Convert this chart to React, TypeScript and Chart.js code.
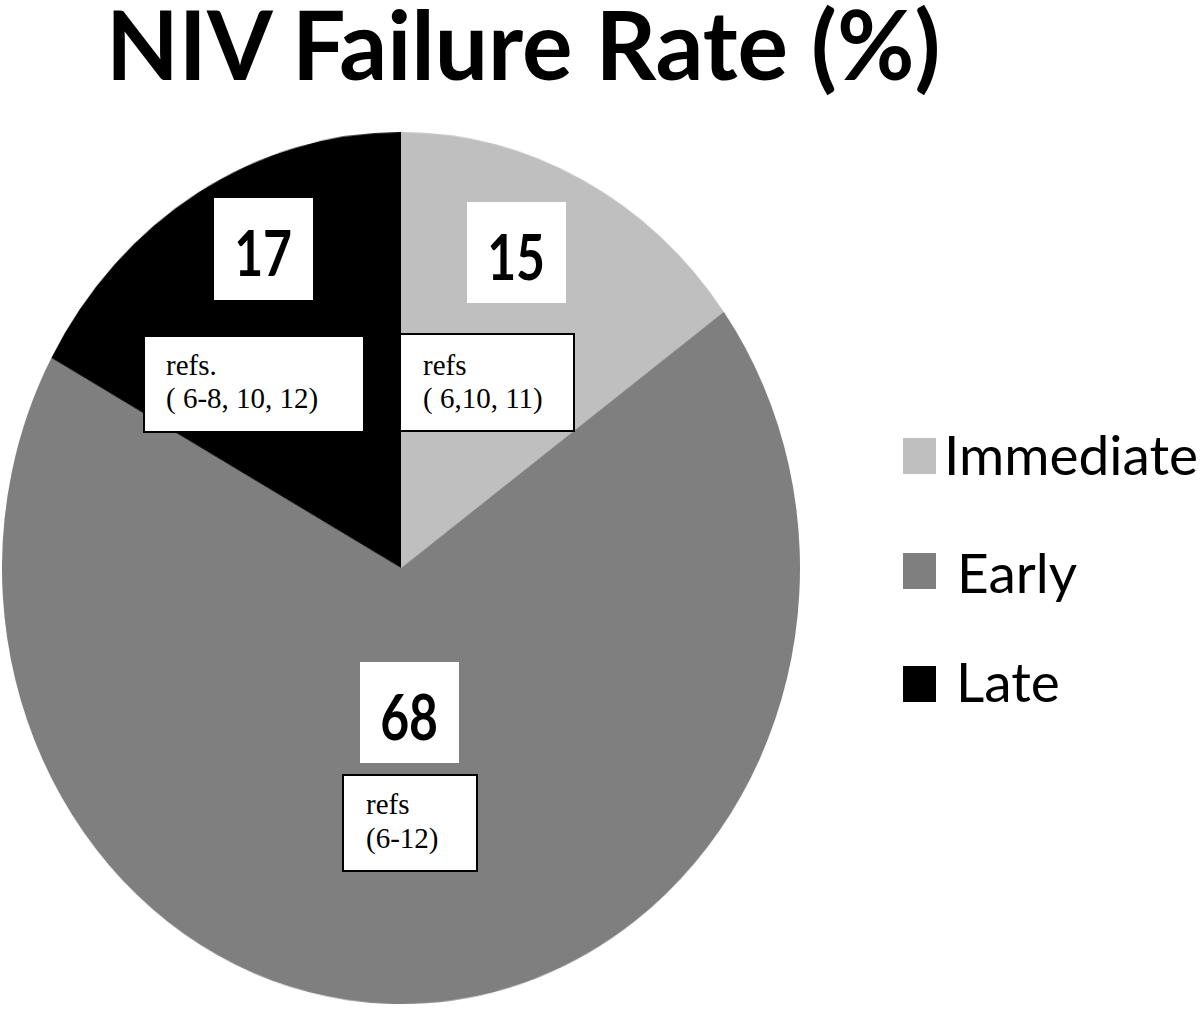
import React, { useEffect, useRef } from "react";
import { Chart, registerables } from "chart.js";

Chart.register(...registerables);

// ---- data ----
const titleText = "NIV Failure Rate (%)";
const categories = ["Immediate", "Early", "Late"];
const values = [15, 68, 17];
const colors = ["#bfbfbf", "#7f7f7f", "#000000"];
const valueLabels = values.map((v) => String(v));
const refLines = [
  ["refs", "( 6,10, 11)"],
  ["refs", "(6-12)"],
  ["refs.", "( 6-8, 10, 12)"],
];

// ---- layout (positions only) ----
const numBoxes = [
  { x: 467, y: 202, w: 99, h: 101 },
  { x: 360, y: 662, w: 99, h: 101 },
  { x: 214, y: 198, w: 99, h: 102 },
];
const refBoxes = [
  { x: 399, y: 333, w: 176, h: 99, tx: 423, ty: 349, lh: 33 },
  { x: 342, y: 774, w: 136, h: 98, tx: 366, ty: 787, lh: 34 },
  { x: 143, y: 335, w: 222, h: 98, tx: 166, ty: 349, lh: 33 },
];
const legendPos = [
  { sy: 438, ty: 427, tx: 944 },
  { sy: 553, ty: 545, tx: 957 },
  { sy: 666, ty: 654, tx: 956 },
];

export default function App() {
  const canvasRef = useRef<HTMLCanvasElement | null>(null);

  useEffect(() => {
    const canvas = canvasRef.current;
    if (!canvas) return;
    const chart = new Chart(canvas, {
      type: "pie",
      data: {
        labels: categories,
        datasets: [
          {
            data: values,
            backgroundColor: colors,
            borderWidth: 0,
          },
        ],
      },
      options: {
        responsive: false,
        animation: false,
        events: [],
        layout: { padding: 0 },
        plugins: {
          legend: { display: false },
          tooltip: { enabled: false },
          title: { display: false },
        },
      },
    });
    return () => chart.destroy();
  }, []);

  return (
    <div
      style={{
        position: "absolute",
        left: 0,
        top: 0,
        width: 1200,
        height: 1010,
        background: "#ffffff",
        overflow: "hidden",
      }}
    >
      <div
        style={{
          position: "absolute",
          left: 106,
          top: -5,
          fontFamily: "Lato",
          fontWeight: 700,
          fontSize: 96,
          lineHeight: "96px",
          whiteSpace: "nowrap",
          color: "#000",
          transform: "scaleX(0.985)",
          transformOrigin: "0 0",
        }}
      >
        {titleText}
      </div>

      <canvas
        ref={canvasRef}
        width={798}
        height={798}
        style={{
          position: "absolute",
          left: 2,
          top: 132,
          transform: "scaleY(1.0927)",
          transformOrigin: "0 0",
        }}
      />

      {numBoxes.map((b, i) => (
        <div
          key={"n" + i}
          style={{
            position: "absolute",
            left: b.x,
            top: b.y,
            width: b.w,
            height: b.h,
            background: "#ffffff",
            display: "flex",
            alignItems: "center",
            justifyContent: "center",
            boxSizing: "border-box",
            paddingTop: 6,
          }}
        >
          <span
            style={{
              display: "inline-block",
              fontFamily: "Lato",
              fontWeight: 700,
              fontSize: 64,
              lineHeight: "64px",
              transform: "scaleX(0.78)",
              color: "#000",
            }}
          >
            {valueLabels[i]}
          </span>
        </div>
      ))}

      {refBoxes.map((b, i) => (
        <React.Fragment key={"r" + i}>
          <div
            style={{
              position: "absolute",
              left: b.x,
              top: b.y,
              width: b.w,
              height: b.h,
              background: "#ffffff",
              border: "2px solid #000",
              boxSizing: "border-box",
            }}
          />
          <div
            style={{
              position: "absolute",
              left: b.tx,
              top: b.ty,
              fontFamily: "'Liberation Serif'",
              fontSize: 29,
              lineHeight: b.lh + "px",
              whiteSpace: "pre",
              color: "#000",
            }}
          >
            {refLines[i].map((l, j) => (
              <div key={j}>{l}</div>
            ))}
          </div>
        </React.Fragment>
      ))}

      {categories.map((c, i) => (
        <React.Fragment key={"l" + i}>
          <div
            style={{
              position: "absolute",
              left: 903,
              top: legendPos[i].sy,
              width: 33,
              height: 36,
              background: colors[i],
            }}
          />
          <div
            style={{
              position: "absolute",
              left: legendPos[i].tx,
              top: legendPos[i].ty,
              fontFamily: "Lato",
              fontWeight: 400,
              fontSize: 55,
              lineHeight: "55px",
              whiteSpace: "nowrap",
              color: "#000",
            }}
          >
            {c}
          </div>
        </React.Fragment>
      ))}
    </div>
  );
}
